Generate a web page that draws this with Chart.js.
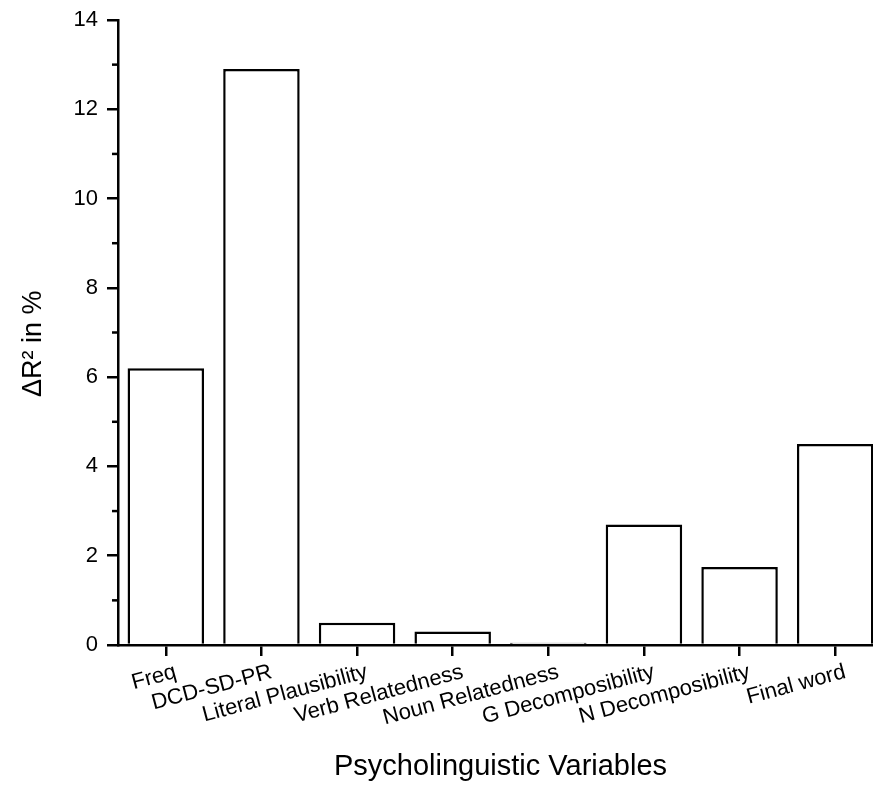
<!DOCTYPE html>
<html>
<head>
<meta charset="utf-8">
<script src="https://cdn.jsdelivr.net/npm/chart.js@4"></script>
<style>
  html, body { margin: 0; padding: 0; background: #fff; overflow: hidden; }
  #wrap { width: 890px; height: 785px; }
</style>
</head>
<body>
<div id="wrap"><canvas id="chart" width="890" height="785"></canvas></div>
<script>
// Delta R^2 per psycholinguistic variable
const categories = ['Freq', 'DCD-SD-PR', 'Literal Plausibility', 'Verb Relatedness',
    'Noun Relatedness', 'G Decomposibility', 'N Decomposibility', 'Final word'];
const deltaR2 = [6.2, 12.9, 0.5, 0.3, 0.05, 2.7, 1.75, 4.5];
const minorTicks = [1, 3, 5, 7, 9, 11, 13];

const FONT = 'Liberation Sans, Arial, sans-serif';

// minor ticks on the y axis (Chart.js has none of its own)
const minorTickPlugin = {
    id: 'minorTicks',
    afterDraw(chart) {
        const y = chart.scales.y;
        const ctx = chart.ctx;
        ctx.save();
        ctx.strokeStyle = '#000';
        ctx.lineWidth = 2.5;
        minorTicks.forEach((v) => {
            const py = y.getPixelForValue(v);
            ctx.beginPath();
            ctx.moveTo(y.right - 6, py);
            ctx.lineTo(y.right, py);
            ctx.stroke();
        });
        ctx.restore();
    }
};

new Chart(document.getElementById('chart').getContext('2d'), {
    type: 'bar',
    data: {
        labels: categories,
        datasets: [{
            data: deltaR2,
            backgroundColor: '#fff',
            borderColor: '#000',
            borderWidth: 2.5,
            categoryPercentage: 0.8,
            barPercentage: 1
        }]
    },
    options: {
        responsive: false,
        animation: false,
        layout: { padding: { top: 20, right: 7, left: 0, bottom: 0 } },
        plugins: { legend: { display: false }, tooltip: { enabled: false } },
        scales: {
            x: {
                grid: { drawOnChartArea: false, offset: false, color: '#000', lineWidth: 2.5, tickLength: 11 },
                border: { color: '#000', width: 2.5 },
                ticks: { color: '#000', font: { family: FONT, size: 22 }, minRotation: 15, maxRotation: 15, autoSkip: false, padding: 3, labelOffset: 10 },
                title: { display: true, text: 'Psycholinguistic Variables', color: '#000', font: { family: FONT, size: 29 }, padding: { top: 0, bottom: 1 } },
                afterFit: (s) => { s.height = 140; }
            },
            y: {
                min: 0, max: 14,
                grid: { drawOnChartArea: false, color: '#000', lineWidth: 2.5, tickLength: 11 },
                border: { color: '#000', width: 2.5 },
                ticks: { stepSize: 2, color: '#000', font: { family: FONT, size: 22 }, padding: 9 },
                // trailing spaces nudge the centred title down to where the original sits
                title: { display: true, text: 'ΔR² in %   ', color: '#000', font: { family: FONT, size: 27 }, padding: { top: 17, bottom: 0 } },
                afterFit: (s) => { s.width = 118; s.paddingTop = 0; s.paddingBottom = 0; }
            }
        }
    },
    plugins: [minorTickPlugin]
});
</script>
</body>
</html>
